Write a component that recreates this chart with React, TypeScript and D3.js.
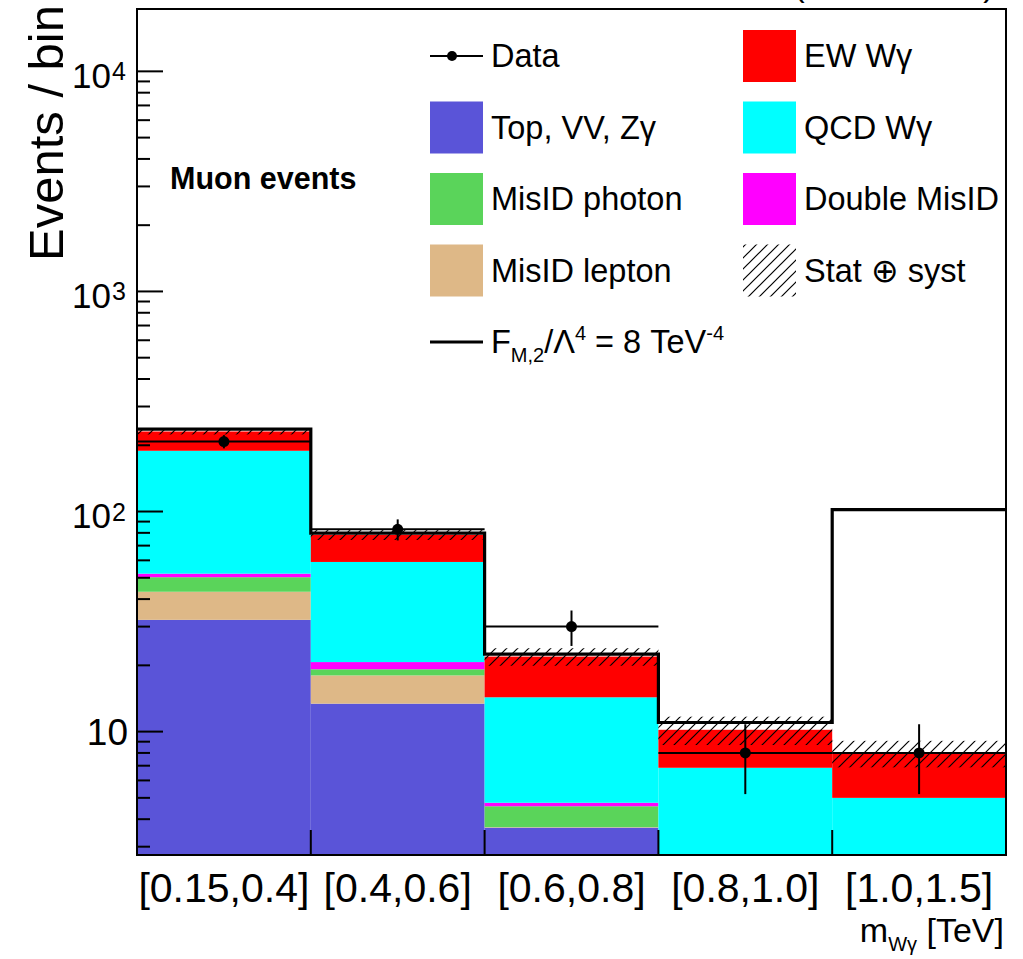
import * as d3 from 'd3';
import React from 'react';

const W = 1023;
const H = 959;
const margin = { top: 9, left: 137, right: 17, bottom: 104 };

const categories = ['[0.15,0.4]', '[0.4,0.6]', '[0.6,0.8]', '[0.8,1.0]', '[1.0,1.5]'];

// background components per bin
const topVVZg = [32.2, 13.4, 3.66, 1.1, 0.8];
const misidLepton = [11.0, 4.6, 0.02, 0.3, 0.2];
const misidPhoton = [7.1, 1.2, 0.9, 0.4, 0.3];
const doubleMisid = [1.9, 1.5, 0.17, 0.05, 0.04];
const qcdWg = [136.6, 38.3, 9.57, 5.0, 3.66];
const ewWg = [42.2, 19.3, 7.6, 3.34, 2.98];
const totalErr = [7, 4, 2, 1.5, 1.1];

// SM + signal (F_M,2 / Lambda^4 = 8 TeV^-4)
const signalTotal = [237, 79.8, 22.5, 11.0, 102];

const dataCounts = [208, 83, 30, 8, 8];
const dataErr = [14.4, 9.1, 5.5, 2.8, 2.8];

const yTickLabels = [
  { v: 10, base: '10', exp: '' },
  { v: 100, base: '10', exp: '2' },
  { v: 1000, base: '10', exp: '3' },
  { v: 10000, base: '10', exp: '4' },
];

const layers = [
  { key: 'top', label: 'Top, VV, Z\u03b3', color: '#5a54d8', values: topVVZg },
  { key: 'lep', label: 'MisID lepton', color: '#deb887', values: misidLepton },
  { key: 'pho', label: 'MisID photon', color: '#5ad45a', values: misidPhoton },
  { key: 'dbl', label: 'Double MisID', color: '#ff00ff', values: doubleMisid },
  { key: 'qcd', label: 'QCD W\u03b3', color: '#00ffff', values: qcdWg },
  { key: 'ew', label: 'EW W\u03b3', color: '#ff0000', values: ewWg },
];

const font = '"Liberation Sans", Arial, Helvetica, sans-serif';

const App = () => {
  const x0 = margin.left;
  const x1 = W - margin.right;
  const yTop = margin.top;
  const yBot = H - margin.bottom;

  const x = d3.scaleBand<string>().domain(categories).range([x0, x1]).padding(0);
  const yMin = 2.75;
  const y = d3.scaleLog().domain([yMin, 19200]).range([yBot, yTop]).clamp(true);

  const rows = categories.map((c, i) => {
    const r: any = { cat: c };
    layers.forEach((l) => (r[l.key] = l.values[i]));
    return r;
  });
  const stacked = d3.stack<any>().keys(layers.map((l) => l.key))(rows);
  const totals = rows.map((r) => layers.reduce((s, l) => s + r[l.key], 0));

  const bw = x.bandwidth();

  const sigPts: [number, number][] = [];
  categories.forEach((c, i) => {
    sigPts.push([x(c)!, y(signalTotal[i])]);
    sigPts.push([x(c)! + bw, y(signalTotal[i])]);
  });
  const line = d3.line();

  const ticks = y.ticks().filter((t) => t >= yMin);
  const isMajor = (t: number) => Math.abs(Math.log10(t) - Math.round(Math.log10(t))) < 1e-9;

  const legendLeft = [
    { type: 'data', label: 'Data' },
    { type: 'box', label: layers[0].label, color: layers[0].color },
    { type: 'box', label: layers[2].label, color: layers[2].color },
    { type: 'box', label: layers[1].label, color: layers[1].color },
  ];
  const legendRight = [
    { type: 'box', label: layers[5].label, color: layers[5].color },
    { type: 'box', label: layers[4].label, color: layers[4].color },
    { type: 'box', label: layers[3].label, color: layers[3].color },
    { type: 'hatch', label: 'Stat \u2295 syst' },
  ];
  const rowY = (i: number) => 56 + i * 71.5;

  const renderEntry = (e: any, i: number, lx: number) => {
    const cy = rowY(i);
    return (
      <g key={e.label}>
        {e.type === 'data' && (
          <g>
            <line x1={lx} x2={lx + 53} y1={cy} y2={cy} stroke="#000" strokeWidth={2} />
            <circle cx={lx + 22} cy={cy} r={5} fill="#000" />
          </g>
        )}
        {e.type === 'box' && <rect x={lx} y={cy - 26} width={53} height={52} fill={e.color} />}
        {e.type === 'hatch' && <rect x={lx} y={cy - 26} width={53} height={52} fill="url(#hatch)" />}
        <text x={lx + 61} y={cy + 11} fontSize={32.5} fontFamily={font}>
          {e.label}
        </text>
      </g>
    );
  };

  return (
    <svg width={W} height={H} style={{ position: 'absolute', left: 0, top: 0, background: '#fff' }}>
      <defs>
        <pattern id="hatch" patternUnits="userSpaceOnUse" width={11} height={11}>
          <path d="M0,11 L11,0 M-3,3 L3,-3 M8,14 L14,8" stroke="#000" strokeWidth={1.2} />
        </pattern>
        <clipPath id="plot">
          <rect x={x0} y={yTop} width={x1 - x0} height={yBot - yTop} />
        </clipPath>
      </defs>

      {/* header, cut off at the top edge as in the original */}
      <text x={794} y={-4} fontSize={32} fontFamily={font} textLength={200} lengthAdjust="spacing">
        (13 TeV)
      </text>

      <g clipPath="url(#plot)">
        {stacked.map((layer, li) => (
          <g key={layer.key} fill={layers[li].color}>
            {layer.map((d, i) => {
              const lo = Math.max(d[0], yMin);
              if (d[1] <= yMin) return null;
              return (
                <rect
                  key={i}
                  x={x(categories[i])!}
                  y={y(d[1])}
                  width={bw}
                  height={y(lo) - y(d[1])}
                />
              );
            })}
          </g>
        ))}

        {totals.map((t, i) => (
          <rect
            key={i}
            x={x(categories[i])!}
            y={y(t + totalErr[i])}
            width={bw}
            height={y(t - totalErr[i]) - y(t + totalErr[i])}
            fill="url(#hatch)"
          />
        ))}

        <path d={line(sigPts) || ''} fill="none" stroke="#000" strokeWidth={3.2} />

        {dataCounts.map((v, i) => {
          const cx = x(categories[i])! + bw / 2;
          return (
            <g key={i} stroke="#000" strokeWidth={2}>
              <line x1={x(categories[i])!} x2={x(categories[i])! + bw} y1={y(v)} y2={y(v)} />
              <line x1={cx} x2={cx} y1={y(v + dataErr[i])} y2={y(v - dataErr[i])} />
              <circle cx={cx} cy={y(v)} r={5.5} fill="#000" stroke="none" />
            </g>
          );
        })}
      </g>

      {/* y ticks */}
      {ticks.map((t) => (
        <line
          key={t}
          x1={x0}
          x2={x0 + (isMajor(t) ? 26 : 13)}
          y1={y(t)}
          y2={y(t)}
          stroke="#000"
          strokeWidth={2}
        />
      ))}
      {/* x ticks at bin edges */}
      {categories.slice(1).map((c) => (
        <line key={c} x1={x(c)!} x2={x(c)!} y1={yBot} y2={yBot - 25} stroke="#000" strokeWidth={2} />
      ))}

      <rect x={x0} y={yTop} width={x1 - x0} height={yBot - yTop} fill="none" stroke="#000" strokeWidth={2} />

      {/* y tick labels */}
      {yTickLabels.map((t) =>
        t.exp ? (
          <g key={t.v} fontFamily={font}>
            <text x={111} y={y(t.v) + 16.5} fontSize={35} textAnchor="end">
              {t.base}
            </text>
            <text x={112} y={y(t.v) + 9} fontSize={25}>
              {t.exp}
            </text>
          </g>
        ) : (
          <text key={t.v} x={128} y={y(t.v) + 13} fontSize={37} textAnchor="end" fontFamily={font}>
            {t.base}
          </text>
        )
      )}

      {/* x tick labels */}
      {categories.map((c) => (
        <text key={c} x={x(c)! + bw / 2} y={902} fontSize={41} textAnchor="middle" fontFamily={font}>
          {c}
        </text>
      ))}

      {/* axis titles */}
      <text transform="translate(63,5) rotate(-90)" fontSize={49} textAnchor="end" fontFamily={font}>
        Events / bin
      </text>
      <text x={1004} y={942} fontSize={34} textAnchor="end" fontFamily={font}>
        m
        <tspan fontSize={20} dy={9}>
          W{'\u03b3'}
        </tspan>
        <tspan dy={-9}> [TeV]</tspan>
      </text>

      <text x={170} y={189} fontSize={30.5} fontWeight="bold" fontFamily={font}>
        Muon events
      </text>

      {/* legend */}
      {legendLeft.map((e, i) => renderEntry(e, i, 430))}
      {legendRight.map((e, i) => renderEntry(e, i, 743))}
      <line x1={430} x2={483} y1={rowY(4)} y2={rowY(4)} stroke="#000" strokeWidth={3} />
      <text x={491} y={rowY(4) + 11} fontSize={32.5} fontFamily={font}>
        F
        <tspan fontSize={20} dy={9}>
          M,2
        </tspan>
        <tspan dy={-9}>/{'\u039b'}</tspan>
        <tspan fontSize={20} dy={-13}>
          4
        </tspan>
        <tspan dy={13}> = 8 TeV</tspan>
        <tspan fontSize={20} dy={-13}>
          -4
        </tspan>
      </text>
    </svg>
  );
};

export default App;
